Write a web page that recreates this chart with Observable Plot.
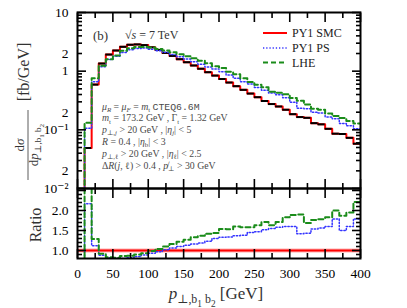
<!DOCTYPE html>
<html><head><meta charset="utf-8">
<script src="https://cdn.jsdelivr.net/npm/d3@7"></script>
<script src="https://cdn.jsdelivr.net/npm/@observablehq/plot@0.6"></script>
<style>
body{margin:0;background:#fff;}
#chart{position:relative;width:407px;height:308px;overflow:hidden;}
#chart svg{position:absolute;left:0;}
</style></head><body><div id="chart"></div>
<script>
// ---- data (bin lower edges in GeV, 10 GeV bins) ----
const binStart = [0,10,20,30,40,50,60,70,80,90,100,110,120,130,140,150,160,170,180,190,200,210,220,230,240,250,260,270,280,290,300,310,320,330,340,350,360,370,380,390];
const binEnd = 400;
const smc = [0,0.049,0.59,1.35,1.92,2.25,2.6,2.82,2.86,2.78,2.55,2.3,2.05,1.82,1.6,1.42,1.25,1.1,0.96,0.84,0.735,0.64,0.555,0.48,0.415,0.36,0.31,0.275,0.25,0.22,0.185,0.165,0.16,0.13,0.124,0.104,0.086,0.085,0.073,0.058];
const ps = [0,0.106,0.661,1.188,1.574,1.80,2.08,2.312,2.431,2.474,2.372,2.231,2.091,1.929,1.76,1.605,1.45,1.309,1.181,1.092,0.978,0.858,0.760,0.662,0.602,0.529,0.471,0.426,0.395,0.352,0.296,0.234,0.229,0.200,0.193,0.166,0.154,0.128,0.117,0.104];
const lhe = [0,0.132,0.761,1.242,1.594,1.845,2.236,2.453,2.574,2.585,2.525,2.392,2.255,2.111,1.952,1.803,1.663,1.507,1.363,1.210,1.132,0.979,0.888,0.758,0.656,0.587,0.530,0.448,0.428,0.403,0.350,0.314,0.270,0.229,0.221,0.190,0.172,0.159,0.142,0.128];
const ratioSMC = [1,1,1,1,1,1,1,1,1,1,1,1,1,1,1,1,1,1,1,1,1,1,1,1,1,1,1,1,1,1,1,1,1,1,1,1,1,1,1,1];
const ratioPS = [0,2.17,1.12,0.88,0.82,0.80,0.80,0.82,0.85,0.89,0.93,0.97,1.02,1.06,1.10,1.13,1.16,1.19,1.23,1.30,1.33,1.34,1.37,1.38,1.45,1.47,1.52,1.55,1.58,1.60,1.60,1.42,1.43,1.54,1.56,1.60,1.79,1.50,1.60,1.79];
const ratioLHE = [0,2.7,1.29,0.92,0.83,0.82,0.86,0.87,0.90,0.93,0.99,1.04,1.10,1.16,1.22,1.27,1.33,1.37,1.42,1.44,1.54,1.53,1.60,1.58,1.58,1.63,1.71,1.63,1.71,1.83,1.89,1.90,1.69,1.76,1.78,1.83,2.00,1.87,1.95,2.21];
const seriesNames = ["PY1 SMC","PY1 PS","LHE"];

// ---- ticks ----
const xMajor = [0,50,100,150,200,250,300,350,400];
const xMinor = [25,75,125,175,225,275,325,375];
const xLabels = ["0","50","100","150","200","250","300","350","400"];
const yTopMajor = [0.01,0.1,1,10];
const yTopMinor = [0.02,0.03,0.04,0.05,0.06,0.07,0.08,0.09,0.2,0.3,0.4,0.5,0.6,0.7,0.8,0.9,2,3,4,5,6,7,8,9];
const yTopLabelVals = [10,5,2,1,0.5,0.2,0.1,0.05,0.02,0.01];
const yTopLabelText = ["10","5","2","1","5","2","10\u207B\u00B9","5","2","10\u207B\u00B2"];
const yRatMajor = [1,1.5,2,2.5];
const yRatMinor = [0.9,1.1,1.2,1.3,1.4,1.6,1.7,1.8,1.9,2.1,2.2,2.3,2.4];
const yRatLabelVals = [1,1.5,2];
const yRatLabelText = ["1.0","1.5","2.0"];

// ---- helpers ----
const serif = "'Liberation Serif','DejaVu Serif',serif";
const rows = (vals, floor) => binStart.map((x,i)=>({x, y: floor && !(vals[i]>0) ? floor : vals[i]}))
  .concat([{x: binEnd, y: vals[vals.length-1]}]);
const bins = (vals) => binStart.map((x,i)=>({x1:x, x2:(binStart[i+1] ?? binEnd), y: vals[i]})).filter(d=>d.y>0);
const RED="#ff0000", BLUE="#3535ff", GREEN="#1a8c1a";
const lineOpts = {
  smc: {stroke: RED, strokeWidth: 2},
  ps: {stroke: BLUE, strokeWidth: 1.5, strokeDasharray: "1.3,1.9"},
  lhe: {stroke: GREEN, strokeWidth: 2, strokeDasharray: "5,3"}
};
const topMap = new Map(yTopLabelVals.map((v,i)=>[v,yTopLabelText[i]]));
const ratMap = new Map(yRatLabelVals.map((v,i)=>[v,yRatLabelText[i]]));
const xMap = new Map(xMajor.map((v,i)=>[v,xLabels[i]]));
const tk = {stroke: "black", strokeWidth: 1.6, label: null, fill: "none"};
function frameTicks(ymaj, ymin) {
  return [
    Plot.axisX({...tk, anchor:"bottom", ticks: xMajor, tickSize: -9}),
    Plot.axisX({...tk, anchor:"bottom", ticks: xMinor, tickSize: -5}),
    Plot.axisX({...tk, anchor:"top", ticks: xMajor, tickSize: -9}),
    Plot.axisX({...tk, anchor:"top", ticks: xMinor, tickSize: -5}),
    Plot.axisY({...tk, anchor:"left", ticks: ymaj, tickSize: -9}),
    Plot.axisY({...tk, anchor:"left", ticks: ymin, tickSize: -5}),
    Plot.axisY({...tk, anchor:"right", ticks: ymaj, tickSize: -9}),
    Plot.axisY({...tk, anchor:"right", ticks: ymin, tickSize: -5})
  ];
}
const style = {background:"transparent", overflow:"visible", fontFamily: serif, fontSize:"13.5px", color:"black"};

const topPlot = Plot.plot({
  width: 407, height: 188, marginLeft: 77, marginRight: 47, marginTop: 12, marginBottom: 0,
  style,
  x: {domain: [0, 400]},
  y: {type: "log", domain: [0.01, 10]},
  marks: [
    Plot.lineY(rows(smc, 1e-4), {x:"x", y:"y", curve:"step-after", clip:true, ...lineOpts.smc}),
    Plot.ruleY(bins(smc), {x1:"x1", x2:"x2", y:"y", stroke:"black", strokeWidth:2, clip:true}),
    Plot.lineY(rows(ps, 1e-4), {x:"x", y:"y", curve:"step-after", clip:true, ...lineOpts.ps}),
    Plot.lineY(rows(lhe, 1e-4), {x:"x", y:"y", curve:"step-after", clip:true, ...lineOpts.lhe}),
    Plot.frame({stroke:"black", strokeWidth:2}),
    ...frameTicks(yTopMajor, yTopMinor),
    Plot.axisY({anchor:"left", ticks: yTopLabelVals, tickSize: 0, tickPadding: 9, tickFormat: d=>topMap.get(d), label: null})
  ]
});

const ratPlot = Plot.plot({
  width: 407, height: 120, marginLeft: 77, marginRight: 47, marginTop: 0, marginBottom: 50,
  style,
  x: {domain: [0, 400]},
  y: {domain: [0.8, 2.55]},
  marks: [
    Plot.lineY(rows(ratioSMC), {x:"x", y:"y", curve:"step-after", clip:true, stroke:"#ffb0b0", strokeWidth:4}),
    Plot.lineY(rows(ratioSMC), {x:"x", y:"y", curve:"step-after", clip:true, stroke: RED, strokeWidth:1.8}),
    Plot.lineY(rows(ratioPS), {x:"x", y:"y", curve:"step-after", clip:true, ...lineOpts.ps}),
    Plot.lineY(rows(ratioLHE), {x:"x", y:"y", curve:"step-after", clip:true, ...lineOpts.lhe}),
    Plot.frame({stroke:"black", strokeWidth:2}),
    ...frameTicks(yRatMajor, yRatMinor),
    Plot.axisY({anchor:"left", ticks: yRatLabelVals, tickSize: 0, tickPadding: 9, tickFormat: d=>ratMap.get(d), label: null}),
    Plot.axisX({anchor:"bottom", ticks: xMajor, tickSize: 0, tickPadding: 10, tickFormat: d=>xMap.get(d), label: null})
  ]
});

const chart = document.getElementById("chart");
topPlot.style.top = "0px";
ratPlot.style.top = "188px";
chart.appendChild(ratPlot);
chart.appendChild(topPlot);

// ---- text overlay ----
const ov = d3.select(chart).append("svg")
  .attr("width", 407).attr("height", 308)
  .style("top","0px").style("pointer-events","none")
  .attr("font-family", serif).style("white-space","pre");

function rich(sel, parts, size) {
  let shift = 0;
  for (const p of parts) {
    const o = typeof p === "string" ? {t:p} : p;
    const target = o.sub2 ? size*0.45 : o.sub ? size*0.22 : 0;
    const ts = sel.append("tspan").text(o.t);
    if (target - shift !== 0) ts.attr("dy", target - shift);
    shift = target;
    if (o.sub2) ts.attr("font-size", size*0.55);
    else if (o.sub) ts.attr("font-size", size*0.7);
    if (o.i) ts.attr("font-style","italic");
    if (o.tt) ts.attr("font-family","'Liberation Mono','DejaVu Sans Mono',monospace");
  }
  return sel;
}

// panel label and energy
ov.append("text").attr("x",93).attr("y",40).attr("font-size",13).attr("fill","#333").text("(b)");
rich(ov.append("text").attr("x",125).attr("y",39).attr("font-size",12).attr("fill","#333"),
  ["\u221A", {t:"s", i:true}, " = 7 TeV"], 12);

// legend
const leg = [
  {y:33, o: lineOpts.smc},
  {y:48, o: lineOpts.ps},
  {y:62.5, o: lineOpts.lhe}
];
leg.forEach((l,i)=>{
  ov.append("line").attr("x1",263).attr("x2",287).attr("y1",l.y).attr("y2",l.y)
    .attr("stroke",l.o.stroke).attr("stroke-width",l.o.strokeWidth)
    .attr("stroke-dasharray", l.o.strokeDasharray || null);
  ov.append("text").attr("x",292).attr("y",l.y+4).attr("font-size",12).attr("fill","#222").text(seriesNames[i]);
});

// parameter block
const params = [
  [{t:"\u03BC",i:true},{t:"R",sub:true,i:true}," = ",{t:"\u03BC",i:true},{t:"F",sub:true,i:true}," = ",{t:"m",i:true},{t:"t",sub:true}," ",{t:"CTEQ6.6M",tt:true}],
  [{t:"m",i:true},{t:"t",sub:true}," = 173.2 GeV , \u0393",{t:"t",sub:true}," = 1.32 GeV"],
  [{t:"p",i:true},{t:"\u22A5,",sub:true},{t:"j",sub:true,i:true}," > 20 GeV , |",{t:"\u03B7",i:true},{t:"j",sub:true,i:true},"| < 5"],
  [{t:"R",i:true}," = 0.4 , |",{t:"\u03B7",i:true},{t:"b",sub:true},"| < 3"],
  [{t:"p",i:true},{t:"\u22A5,\u2113",sub:true}," > 20 GeV , |",{t:"\u03B7",i:true},{t:"\u2113",sub:true},"| < 2.5"],
  ["\u0394",{t:"R",i:true},"(",{t:"j",i:true},", \u2113) > 0.4 , ",{t:"p\u0338",i:true},{t:"\u22A5",sub:true}," > 30 GeV"]
];
params.forEach((p,i)=>{
  rich(ov.append("text").attr("x",102).attr("y",109.5+i*11.9).attr("font-size",9.8).attr("fill","#4a4a4a"), p, 9.8);
});

// y label top
ov.append("text").attr("transform","translate(29,72) rotate(-90)").attr("text-anchor","middle")
  .attr("font-size",16).attr("fill","#333").text("[fb/GeV]");
rich(ov.append("text").attr("transform","translate(24,145) rotate(-90)").attr("text-anchor","middle")
  .attr("font-size",13).attr("fill","#333"), ["d",{t:"\u03C3",i:true}], 13);
ov.append("line").attr("x1",28).attr("x2",28).attr("y1",110).attr("y2",180).attr("stroke","#333").attr("stroke-width",0.8);
rich(ov.append("text").attr("transform","translate(38,145) rotate(-90)").attr("text-anchor","middle")
  .attr("font-size",13).attr("fill","#333"),
  ["d",{t:"p",i:true},{t:"\u22A5,b",sub:true},{t:"1",sub2:true},{t:" b",sub:true},{t:"2",sub2:true}], 13);

// ratio label
ov.append("text").attr("transform","translate(41,225) rotate(-90)").attr("text-anchor","middle")
  .attr("font-size",16).attr("fill","#333").text("Ratio");

// x title
rich(ov.append("text").attr("x",216).attr("y",299).attr("text-anchor","middle").attr("font-size",17).attr("fill","#333"),
  [{t:"p",i:true},{t:"\u22A5,b",sub:true},{t:"1",sub2:true},{t:" b",sub:true},{t:"2",sub2:true}," [GeV]"], 17);
</script>
</body></html>
